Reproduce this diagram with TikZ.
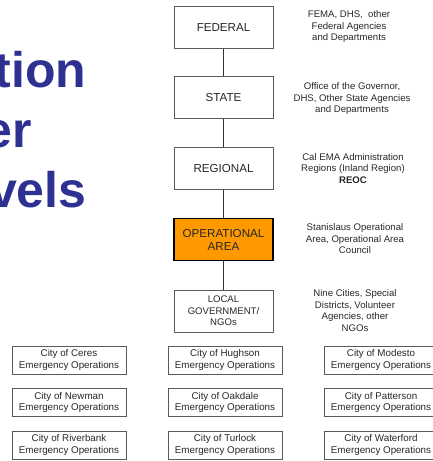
\documentclass[tikz,border=0pt]{standalone}
\usepackage{fontspec}
\setmainfont{Liberation Sans}
\definecolor{titleblue}{RGB}{46,49,146}
\definecolor{boxgray}{RGB}{90,90,90}
\definecolor{txtgray}{RGB}{40,40,40}
\definecolor{opfill}{RGB}{255,153,0}
\begin{document}
\begin{tikzpicture}[x=1pt,y=-1pt,
  level/.style={draw=boxgray,line width=0.8pt,fill=white,minimum width=99pt,minimum height=42pt,inner sep=0pt,align=center,font=\fontsize{11.6}{13}\selectfont,text=txtgray},
  oparea/.style={level,draw=black,line width=1.6pt,fill=opfill,text=black!85},
  note/.style={align=center,font=\fontsize{9.6}{11.5}\selectfont,text=txtgray},
  city/.style={draw=boxgray,line width=0.7pt,fill=white,minimum width=114pt,minimum height=28pt,inner sep=0pt,align=center,font=\fontsize{9.8}{11.5}\selectfont,text=txtgray},
  title/.style={anchor=base east,font=\fontsize{50}{50}\selectfont\bfseries,text=titleblue},
  link/.style={draw=black!80,line width=0.9pt}]
\useasboundingbox (0,0) rectangle (432,461);
\fill[white] (0,0) rectangle (432,461);
% title fragments
\node[title] (t1) at (90,87) {tion};
\node[title] (t2) at (35,147) {er};
\node[title] (t3) at (90,207) {vels};
% levels
\node[level] (fed) at (223.5,27.5) {FEDERAL};
\node[level] (state) at (223.5,97.5) {STATE};
\node[level] (reg) at (223.5,168.5) {REGIONAL};
\node[oparea] (op) at (223.5,239.5) {OPERATIONAL\\AREA};
\node[level,font=\fontsize{9.6}{11.5}\selectfont] (loc) at (223.5,311) {LOCAL\\GOVERNMENT/\\NGOs};
\draw[link] (fed) -- (state);
\draw[link] (state) -- (reg);
\draw[link] (reg) -- (op);
\draw[link] (op) -- (loc);
% notes
\node[note] (n1) at (349,27) {FEMA, DHS,\ \ other\\Federal Agencies\\and Departments};
\node[note] (n2) at (352,99) {Office of the Governor,\\DHS, Other State Agencies\\and Departments};
\node[note] (n3) at (353,168.5) {Cal EMA Administration\\Regions (Inland Region)\\\textbf{REOC}};
\node[note] (n4) at (355,239) {Stanislaus Operational\\Area, Operational Area\\Council};
\node[note] (n5) at (355,310.5) {Nine Cities, Special\\Districts, Volunteer\\Agencies, other\\NGOs};
% cities
\node[city] (c1) at (69,360) {City of Ceres\\Emergency Operations};
\node[city] (c2) at (225,360) {City of Hughson\\Emergency Operations};
\node[city] (c3) at (381,360) {City of Modesto\\Emergency Operations};
\node[city] (c4) at (69,402.5) {City of Newman\\Emergency Operations};
\node[city] (c5) at (225,402.5) {City of Oakdale\\Emergency Operations};
\node[city] (c6) at (381,402.5) {City of Patterson\\Emergency Operations};
\node[city] (c7) at (69,445) {City of Riverbank\\Emergency Operations};
\node[city] (c8) at (225,445) {City of Turlock\\Emergency Operations};
\node[city] (c9) at (381,445) {City of Waterford\\Emergency Operations};
\end{tikzpicture}
\end{document}
